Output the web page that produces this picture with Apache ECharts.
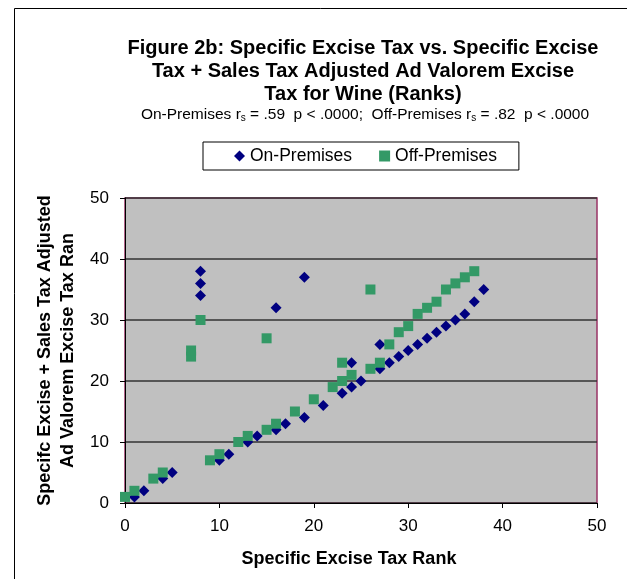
<!doctype html>
<html>
<head>
<meta charset="UTF-8">
<title>Figure 2b</title>
<script src="https://cdn.jsdelivr.net/npm/echarts@6/dist/echarts.min.js"></script>
<style>
  html, body { margin: 0; padding: 0; background: #fff; }
  #main { width: 627px; height: 579px; }
</style>
</head>
<body>
<div id="main"></div>
<script>
// ranks: [specific excise rank, adjusted ad valorem rank]
var onPremX = [1, 2, 4, 5, 8, 8, 8, 10, 11, 13, 14, 16, 16, 17, 19, 19, 21, 23, 24, 24, 25, 27, 27, 28, 29, 30, 31, 32, 33, 34, 35, 36, 37, 38];
var onPremY = [1, 2, 4, 5, 38, 36, 34, 7, 8, 10, 11, 12, 32, 13, 14, 37, 16, 18, 19, 23, 20, 22, 26, 23, 24, 25, 26, 27, 28, 29, 30, 31, 33, 35];
var offPremX = [0, 1, 3, 4, 7, 7, 8, 9, 10, 12, 13, 15, 15, 16, 18, 20, 22, 23, 23, 24, 26, 26, 27, 28, 29, 30, 31, 32, 33, 34, 35, 36, 37];
var offPremY = [1, 2, 4, 5, 24, 25, 30, 7, 8, 10, 11, 12, 27, 13, 15, 17, 19, 20, 23, 21, 22, 35, 23, 26, 28, 29, 31, 32, 33, 35, 36, 37, 38];
var axisTicks = [0, 10, 20, 30, 40, 50];

function pairs(xs, ys) {
    var out = [];
    for (var i = 0; i < xs.length; i++) { out.push([xs[i], ys[i]]); }
    return out;
}

var myChart = echarts.init(document.getElementById('main'));
var font = 'Liberation Sans, Arial, sans-serif';

var option = {
    backgroundColor: '#fff',
    animation: false,
    textStyle: { fontFamily: font },
    title: [
        {
            text: 'Figure 2b: Specific Excise Tax vs. Specific Excise\nTax + Sales Tax Adjusted Ad Valorem Excise\nTax for Wine (Ranks)',
            left: 358, top: 32, textAlign: 'center',
            textStyle: { fontSize: 20, fontWeight: 'bold', color: '#000', lineHeight: 23, fontFamily: font }
        },
        {
            text: 'On-Premises r{s|s} = .59  p < .0000;  Off-Premises r{s|s} = .82  p < .0000',
            left: 360, top: 101, textAlign: 'center',
            textStyle: {
                fontSize: 15.5, fontWeight: 'normal', color: '#000', fontFamily: font,
                rich: { s: { fontSize: 10, padding: [7, 0, 0, 0], fontFamily: font } }
            }
        }
    ],
    legend: {
        left: 203, top: 142, width: 317, height: 30,
        padding: [5, 22, 5, 31],
        borderColor: '#000', borderWidth: 1,
        itemGap: 27, itemWidth: 11, itemHeight: 11,
        textStyle: { fontSize: 17.5, color: '#000', fontFamily: font },
        data: [
            { name: 'On-Premises', icon: 'diamond', itemStyle: { color: '#000080', opacity: 1 } },
            { name: 'Off-Premises', icon: 'rect', itemStyle: { color: '#339966', opacity: 1 } }
        ]
    },
    grid: {
        left: 125, right: 30, top: 198, bottom: 76,
        show: true, backgroundColor: '#c0c0c0',
        borderColor: '#993366', borderWidth: 1.5
    },
    xAxis: {
        type: 'value', min: axisTicks[0], max: axisTicks[axisTicks.length - 1], interval: 10,
        name: 'Specific Excise Tax Rank', nameLocation: 'middle', nameGap: 47,
        nameTextStyle: { fontSize: 18, fontWeight: 'bold', color: '#000', fontFamily: font, padding: [0, 24, 0, 0] },
        axisLine: { show: true, onZero: false, lineStyle: { color: '#000', width: 1 } },
        axisTick: { show: true, length: 5, inside: false, lineStyle: { color: '#000' } },
        axisLabel: { fontSize: 17, color: '#000', margin: 15, fontFamily: font },
        splitLine: { show: false }
    },
    yAxis: {
        type: 'value', min: axisTicks[0], max: axisTicks[axisTicks.length - 1], interval: 10,
        name: 'Specifc Excise + Sales Tax Adjusted\nAd Valorem Excise Tax Ran', nameLocation: 'middle', nameGap: 44,
        nameTextStyle: { fontSize: 18, fontWeight: 'bold', color: '#000', lineHeight: 23, fontFamily: font },
        axisLine: { show: true, onZero: false, lineStyle: { color: '#000', width: 1 } },
        axisTick: { show: true, length: 5, lineStyle: { color: '#000' } },
        axisLabel: { fontSize: 17, color: '#000', margin: 16, fontFamily: font },
        splitLine: { show: true, lineStyle: { color: '#333', width: 1.5 } }
    },
    graphic: [
        {
            type: 'polyline', silent: true, z: -1,
            shape: { points: [[14.5, 579], [14.5, 8.5], [627, 8.5]] },
            style: { fill: 'none', stroke: '#000', lineWidth: 1 }
        }
    ],
    series: [
        {
            name: 'On-Premises', type: 'scatter', symbol: 'diamond', symbolSize: 11,
            itemStyle: { color: '#000080', opacity: 1 }, z: 3,
            data: pairs(onPremX, onPremY)
        },
        {
            name: 'Off-Premises', type: 'scatter', symbol: 'rect', symbolSize: 10,
            itemStyle: { color: '#339966', opacity: 1 }, z: 4,
            data: pairs(offPremX, offPremY)
        }
    ]
};

myChart.setOption(option);
</script>
</body>
</html>
